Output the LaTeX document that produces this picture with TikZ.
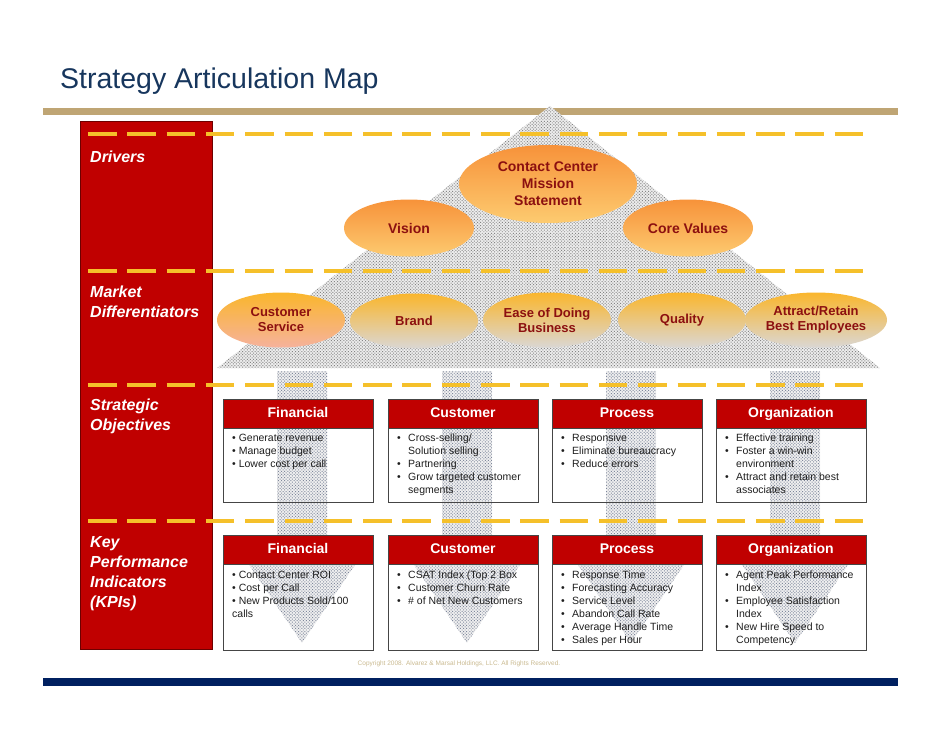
\documentclass[tikz,border=0pt]{standalone}
\usepackage{fontspec}
\setmainfont{Liberation Sans}
\usetikzlibrary{shapes.geometric,patterns.meta}
\definecolor{titlenavy}{HTML}{17365D}
\definecolor{barbrown}{HTML}{BFA574}
\definecolor{brick}{HTML}{C00000}
\definecolor{brickdark}{HTML}{6E0000}
\definecolor{wine}{HTML}{8C1010}
\definecolor{gold}{HTML}{F5C02A}
\definecolor{deepnavy}{HTML}{002060}
\definecolor{ink}{HTML}{1E1E1E}
\definecolor{frame}{HTML}{454545}
\definecolor{dotgray}{HTML}{858585}
\definecolor{dotblue}{HTML}{7F889C}
\definecolor{orangetop}{HTML}{F7923A}
\definecolor{orangebot}{HTML}{FDCB70}
\definecolor{ambertop}{HTML}{FAB62C}
\definecolor{softgray}{HTML}{DAD7D4}
\definecolor{salmon}{HTML}{F6B29C}
\definecolor{faded}{HTML}{C9B98F}
\newcommand{\bul}[1]{\makebox[11pt][l]{\textbullet}#1}
\newcommand{\hang}[1]{\hspace*{11pt}#1}
\tikzset{
  sidelabel/.style={anchor=north west,inner sep=0pt,align=left,text=white,font=\fontsize{16}{20}\selectfont\bfseries\itshape},
  driver/.style={ellipse,top color=orangetop,bottom color=orangebot,inner sep=0pt,align=center,text=wine,font=\fontsize{14}{17}\selectfont\bfseries},
  diff/.style={ellipse,top color=ambertop,bottom color=softgray,inner sep=0pt,align=center,text=wine,minimum width=128pt,minimum height=55pt,font=\fontsize{13}{15}\selectfont\bfseries},
  headbar/.style={rectangle,fill=brick,minimum width=150pt,minimum height=29pt,inner sep=0pt,text height=10pt,text depth=3pt,text=white,font=\fontsize{14}{16}\selectfont\bfseries},
  boxline/.style={draw=frame,line width=1pt},
  boxtext/.style={anchor=north west,inner sep=0pt,align=left,text=ink,font=\fontsize{10.5}{12.9}\selectfont},
  dashrule/.style={draw=gold,line width=4pt,dash pattern=on 28.5pt off 10.8pt},
  dither/.style={preaction={fill=gray!14},pattern={Dots[distance=2.2pt,radius=0.7pt,angle=45]},pattern color=dotgray},
  ditherblue/.style={preaction={fill=gray!12},pattern={Dots[distance=2.2pt,radius=0.7pt,angle=45]},pattern color=dotblue}
}
\begin{document}
\begin{tikzpicture}[x=1pt,y=-1pt]
  \useasboundingbox (0,0) rectangle (942,728);
  % title and rules
  \node[anchor=base west,inner sep=0pt,text=titlenavy,font=\fontsize{28.5}{33}\selectfont] (title) at (60,88) {Strategy Articulation Map};
  \fill[barbrown] (43,108) rectangle (898,115);
  \fill[deepnavy] (43,678) rectangle (898,686);
  \draw[fill=brick,draw=brickdark,line width=0.8pt] (80,121) rectangle (212,649);
  % pyramid and down arrows
  \path[dither] (550,106) -- (880,368) -- (217,368) -- cycle;
  \path[ditherblue] (277,371) -- (327,371) -- (327,562) -- (357,562) -- (302,643) -- (247,562) -- (277,562) -- cycle;
  \path[ditherblue] (442,371) -- (492,371) -- (492,562) -- (522,562) -- (467,643) -- (412,562) -- (442,562) -- cycle;
  \path[ditherblue] (606,371) -- (656,371) -- (656,562) -- (686,562) -- (631,643) -- (576,562) -- (606,562) -- cycle;
  \path[ditherblue] (770,371) -- (820,371) -- (820,562) -- (850,562) -- (795,643) -- (740,562) -- (770,562) -- cycle;
  % dashed rules
  \draw[dashrule] (88,134) -- (863,134);
  \draw[dashrule] (88,271) -- (863,271);
  \draw[dashrule] (88,385) -- (863,385);
  \draw[dashrule] (88,521) -- (863,521);
  % drivers
  \node[driver,minimum width=178pt,minimum height=78pt] (mission) at (548,184) {Contact Center\\Mission\\Statement};
  \node[driver,minimum width=130pt,minimum height=57pt] (vision) at (409,228) {Vision};
  \node[driver,minimum width=130pt,minimum height=57pt] (values) at (688,228) {Core Values};
  % market differentiators
  \node[diff,bottom color=salmon] (service) at (281,320) {Customer\\Service};
  \node[diff] (brand) at (414,321) {Brand};
  \node[diff] (ease) at (547,320) {Ease of Doing\\Business};
  \node[diff] (quality) at (682,320) {Quality};
  \node[diff] (attract) at (816,320) {Attract/Retain\\Best Employees};
  % side labels
  \node[sidelabel] (lbldrivers) at (90,151) {Drivers};
  \node[sidelabel] (lblmarket) at (90,286) {Market\\Differentiators};
  \node[sidelabel] (lblstrategic) at (90,399) {Strategic\\Objectives};
  \node[sidelabel] (lblkpi) at (90,536) {Key\\Performance\\Indicators\\(KPIs)};
  % strategic objectives
  \node[headbar] (objfin) at (298,413.5) {Financial};
  \node[headbar] (objcust) at (463,413.5) {Customer};
  \node[headbar] (objproc) at (627,413.5) {Process};
  \node[headbar] (objorg) at (791,413.5) {Organization};
  \draw[boxline] (223,399) rectangle (373,502);
  \draw[boxline] (388,399) rectangle (538,502);
  \draw[boxline] (552,399) rectangle (702,502);
  \draw[boxline] (716,399) rectangle (866,502);
  \draw[boxline] (223,428) -- (373,428);
  \draw[boxline] (388,428) -- (538,428);
  \draw[boxline] (552,428) -- (702,428);
  \draw[boxline] (716,428) -- (866,428);
  \node[boxtext] (objfintext) at (232,434) {\textbullet\ Generate revenue\\\textbullet\ Manage budget\\\textbullet\ Lower cost per call};
  \node[boxtext] (objcusttext) at (397,434) {\bul{Cross-selling/}\\\hang{Solution selling}\\\bul{Partnering}\\\bul{Grow targeted customer}\\\hang{segments}};
  \node[boxtext] (objproctext) at (561,434) {\bul{Responsive}\\\bul{Eliminate bureaucracy}\\\bul{Reduce errors}};
  \node[boxtext] (objorgtext) at (725,434) {\bul{Effective training}\\\bul{Foster a win-win}\\\hang{environment}\\\bul{Attract and retain best}\\\hang{associates}};
  % key performance indicators
  \node[headbar] (kpifin) at (298,549.5) {Financial};
  \node[headbar] (kpicust) at (463,549.5) {Customer};
  \node[headbar] (kpiproc) at (627,549.5) {Process};
  \node[headbar] (kpiorg) at (791,549.5) {Organization};
  \draw[boxline] (223,535) rectangle (373,650);
  \draw[boxline] (388,535) rectangle (538,650);
  \draw[boxline] (552,535) rectangle (702,650);
  \draw[boxline] (716,535) rectangle (866,650);
  \draw[boxline] (223,564) -- (373,564);
  \draw[boxline] (388,564) -- (538,564);
  \draw[boxline] (552,564) -- (702,564);
  \draw[boxline] (716,564) -- (866,564);
  \node[boxtext] (kpifintext) at (232,571) {\textbullet\ Contact Center ROI\\\textbullet\ Cost per Call\\\textbullet\ New Products Sold/100\\calls};
  \node[boxtext] (kpicusttext) at (397,571) {\bul{CSAT Index (Top 2 Box}\\\bul{Customer Churn Rate}\\\bul{\# of Net New Customers}};
  \node[boxtext] (kpiproctext) at (561,571) {\bul{Response Time}\\\bul{Forecasting Accuracy}\\\bul{Service Level}\\\bul{Abandon Call Rate}\\\bul{Average Handle Time}\\\bul{Sales per Hour}};
  \node[boxtext] (kpiorgtext) at (725,571) {\bul{Agent Peak Performance}\\\hang{Index}\\\bul{Employee Satisfaction}\\\hang{Index}\\\bul{New Hire Speed to}\\\hang{Competency}};
  % footer
  \node[text=faded,font=\fontsize{6.5}{8}\selectfont,inner sep=0pt] (copyright) at (459,664) {Copyright 2008. Alvarez \& Marsal Holdings, LLC. All Rights Reserved.};
\end{tikzpicture}
\end{document}
